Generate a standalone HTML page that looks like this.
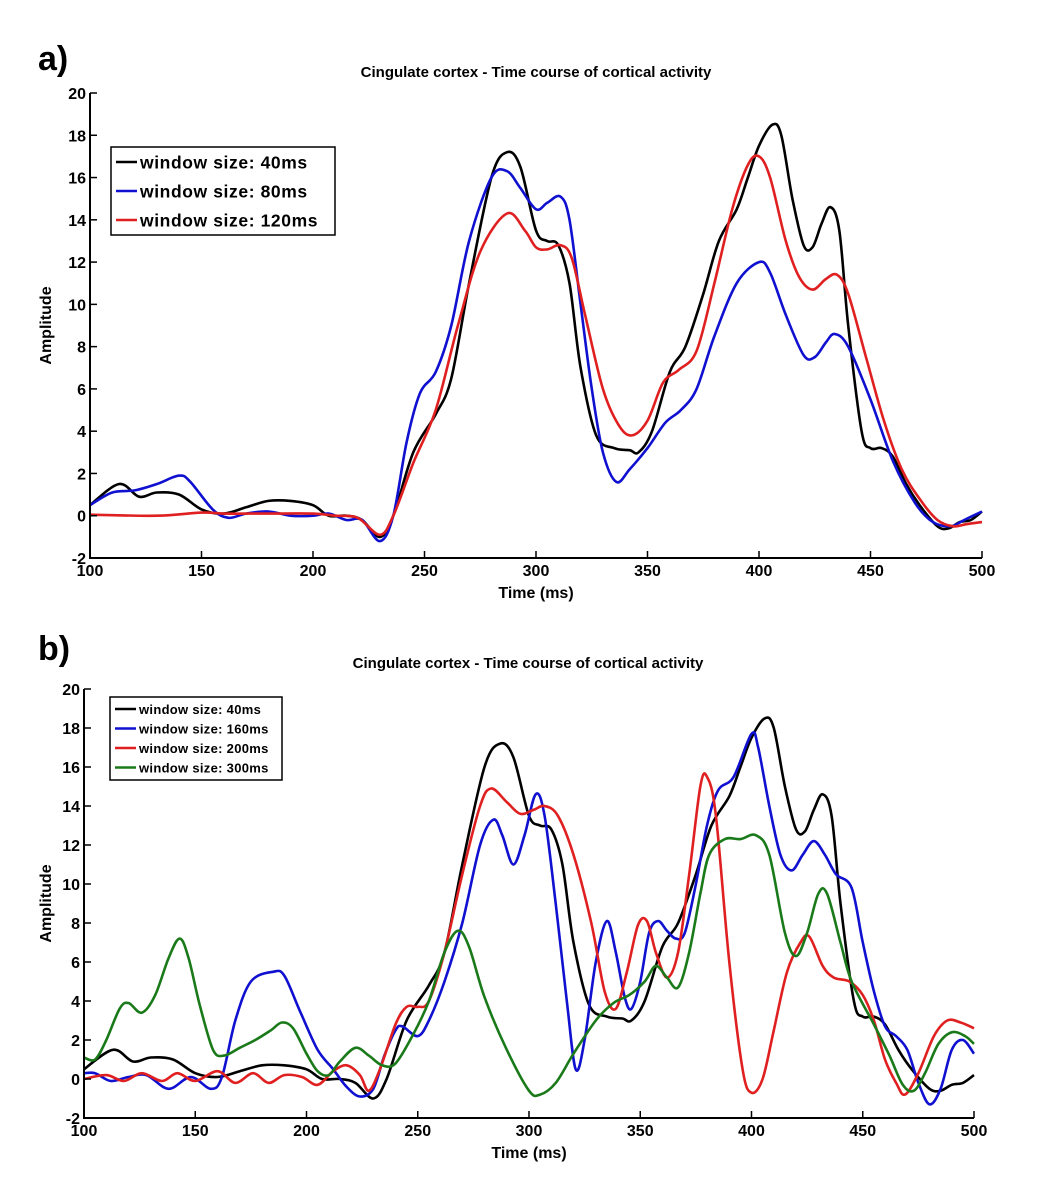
<!DOCTYPE html>
<html><head><meta charset="utf-8"><style>
html,body{margin:0;padding:0;background:#fff;}
svg{display:block;font-family:"Liberation Sans",Arial,sans-serif;}
</style></head><body>
<svg id="svg" width="1049" height="1200" viewBox="0 0 1049 1200">
<text x="38" y="70" font-size="34" font-weight="bold">a)</text>
<text x="536" y="77" font-size="15" font-weight="bold" text-anchor="middle">Cingulate cortex - Time course of cortical activity</text>
<text x="38" y="660" font-size="34" font-weight="bold">b)</text>
<text x="528" y="668" font-size="15" font-weight="bold" text-anchor="middle">Cingulate cortex - Time course of cortical activity</text>
</svg>
<script>
// shared axis ticks
const xTicks=[100,150,200,250,300,350,400,450,500];
const yTicks=[-2,0,2,4,6,8,10,12,14,16,18,20];
// chart a data
const tBlack=[100,113,122,130,140,150,160,170,180,190,200,207,215,222,230,236,245,255,262,270,280,287,293,300,305,310,315,320,327,335,342,346,352,360,367,375,382,390,395,400,406,410,415,420,424,428,432,436,440,446,450,455,460,466,472,480,485,490,495,500];
const vBlack=[0.5,1.5,0.9,1.1,1.0,0.3,0.1,0.4,0.7,0.7,0.5,0.0,0.0,-0.2,-1.0,0.0,3.0,4.8,6.5,11,16,17.2,16.5,13.5,13.0,12.8,11,7,3.8,3.2,3.1,3.0,4.0,6.8,8,10.5,13,14.5,16,17.5,18.5,18,15,12.8,12.7,13.8,14.6,13.5,9,4,3.2,3.2,2.8,1.5,0.5,-0.5,-0.6,-0.3,-0.2,0.2];
const tBlue80=[100,110,120,130,140,145,155,162,170,180,190,200,207,215,222,230,236,242,248,255,262,270,280,287,293,300,305,311,315,320,325,330,336,342,350,358,365,372,380,390,400,405,412,420,425,430,434,440,450,460,470,478,486,492,500];
const vBlue80=[0.5,1.1,1.2,1.5,1.9,1.6,0.3,-0.1,0.1,0.2,0.0,0.0,0.1,-0.2,-0.2,-1.2,0.0,3.5,5.8,6.8,9,13,16,16.3,15.5,14.5,14.8,15.1,14,10,6,3,1.6,2.2,3.2,4.4,5,6,8.5,11,12,11.5,9.5,7.6,7.5,8.2,8.6,8,5.5,2.6,0.6,-0.3,-0.5,-0.2,0.2];
const tRed120=[100,130,150,160,170,180,200,210,220,230,236,245,255,265,275,287,295,300,305,311,316,322,330,337,343,350,357,364,372,380,388,395,400,405,412,418,424,430,435,440,448,456,464,472,480,487,493,500];
const vRed120=[0.05,0.0,0.15,0.1,0.1,0.1,0.1,0.0,-0.1,-0.9,0.0,2.5,5,9,12.5,14.3,13.5,12.7,12.6,12.8,12.2,9.5,6,4.3,3.8,4.5,6.3,6.9,7.8,11,14.5,16.6,17,16,13,11.3,10.7,11.2,11.4,10.5,7.5,4.5,2.2,0.8,-0.2,-0.5,-0.4,-0.3];
// chart b data
const tBlue160=[100,105,112,120,128,138,148,157,162,168,175,185,190,197,205,212,218,224,230,235,240,243,250,255,262,270,278,284,288,293,298,303,307,312,317,321,325,330,335,339,343,346,350,354,358,362,366,370,375,380,385,392,400,403,408,413,418,423,428,433,438,445,450,455,460,465,470,475,480,485,490,495,500];
const vBlue160=[0.3,0.3,-0.1,0.1,0.2,-0.5,0.1,-0.5,0.1,3,5,5.5,5.3,3.5,1.5,0.5,-0.4,-0.9,-0.5,1.2,2.5,2.7,2.2,3,5,8,12,13.3,12.5,11,12.5,14.6,13.5,9,4,0.5,2,6,8.1,6.5,4.2,3.6,5,7.5,8.1,7.6,7.2,7.5,10,13,14.8,15.5,17.7,17,14,11.5,10.7,11.5,12.2,11.5,10.5,9.8,7,4.5,2.7,2.2,1.5,-0.2,-1.3,-0.5,1.5,2.0,1.3];
const tRed200=[100,110,118,126,135,142,150,160,168,176,183,190,198,205,212,218,224,228,233,240,245,250,255,262,270,278,283,290,296,302,307,313,320,328,334,339,344,349,353,357,362,367,372,377,380,384,390,396,400,405,410,416,422,426,432,437,444,450,455,460,465,469,475,482,488,494,500];
const vRed200=[0.0,0.2,-0.1,0.3,-0.1,0.3,-0.1,0.4,-0.2,0.3,-0.2,0.2,0.1,-0.3,0.4,0.7,0.2,-0.6,0.5,2.8,3.7,3.7,4,6.5,10.5,14,14.9,14.2,13.6,13.8,14,13.5,11.5,8,4.5,3.6,5.5,7.9,8.1,6.5,5.2,6.5,10.5,15,15.5,13.5,6,0.5,-0.7,0,2.5,5.5,7,7.3,5.8,5.2,5.0,4.3,3,1,-0.2,-0.8,0.3,2.2,3.0,2.9,2.6];
const tGreen300=[100,105,110,116,120,126,132,138,143,147,152,158,163,170,177,184,189,194,200,205,210,215,222,228,234,240,248,255,262,268,273,280,290,300,305,312,320,330,338,345,352,357,362,367,372,377,381,388,395,402,408,415,420,425,430,434,440,445,455,462,468,473,478,484,490,496,500];
const vGreen300=[1.1,1.0,2.0,3.6,3.9,3.4,4.3,6.2,7.2,6.2,3.8,1.5,1.2,1.6,2.0,2.5,2.9,2.6,1.3,0.4,0.2,0.9,1.6,1.2,0.7,0.8,2.3,4,6.5,7.6,6.8,4.2,1.5,-0.6,-0.8,-0.2,1.3,3,3.9,4.3,5,5.8,5.2,4.7,6.5,9.5,11.5,12.3,12.3,12.5,11.5,7.5,6.3,7.5,9.5,9.5,7,5,2.8,1.2,-0.3,-0.6,0.3,1.8,2.4,2.2,1.8];

const NS='http://www.w3.org/2000/svg';
const svg=document.getElementById('svg');
function mk(tag,attrs,parent){const e=document.createElementNS(NS,tag);for(const k in attrs)e.setAttribute(k,attrs[k]);(parent||svg).appendChild(e);return e;}

function chart(cfg){
  const g=mk('g',{});
  
  
  const xs=v=>cfg.x0+(v-100)/400*(cfg.x1-cfg.x0);
  const ys=v=>cfg.y0-(v+2)/22*(cfg.y0-cfg.y1);
  cfg.series.forEach(s=>{
    const p=s.t.map((t,i)=>[xs(t),ys(s.v[i])]);
    let d='M'+p[0][0].toFixed(1)+','+p[0][1].toFixed(1);
    for(let i=0;i<p.length-1;i++){
      const a=p[i-1]||p[i],b=p[i],c=p[i+1],e=p[i+2]||c;
      const c1=[b[0]+(c[0]-a[0])/6,b[1]+(c[1]-a[1])/6];
      const c2=[c[0]-(e[0]-b[0])/6,c[1]-(e[1]-b[1])/6];
      d+=' C'+c1[0].toFixed(1)+','+c1[1].toFixed(1)+' '+c2[0].toFixed(1)+','+c2[1].toFixed(1)+' '+c[0].toFixed(1)+','+c[1].toFixed(1);
    }
    const path=mk('path',{d:d,fill:'none',stroke:s.color,'stroke-width':2.6,'stroke-linejoin':'round'},g);
    
    
  });
  const ax=mk('line',{x1:cfg.x0,y1:cfg.y1,x2:cfg.x0,y2:cfg.y0,stroke:'#000','stroke-width':2},g);
  
  
  const bx=mk('line',{x1:cfg.x0-1,y1:cfg.y0,x2:cfg.x1,y2:cfg.y0,stroke:'#000','stroke-width':2},g);
  
  
  yTicks.forEach(v=>{
    const y=ys(v);
    mk('line',{x1:cfg.x0,y1:y,x2:cfg.x0+7,y2:y,stroke:'#000','stroke-width':1.5},g);
    const t=mk('text',{x:cfg.x0-4,y:y+6,'font-size':16,'font-weight':'bold','text-anchor':'end'},g);
    t.textContent=v;
    
    
  });
  xTicks.forEach(v=>{
    const x=xs(v);
    mk('line',{x1:x,y1:cfg.y0,x2:x,y2:cfg.y0-7,stroke:'#000','stroke-width':1.5},g);
    const t=mk('text',{x:x,y:cfg.y0+18,'font-size':16,'font-weight':'bold','text-anchor':'middle'},g);
    t.textContent=v;
    
    
  });
  const xt=mk('text',{x:(cfg.x0+cfg.x1)/2,y:cfg.y0+40,'font-size':16,'font-weight':'bold','text-anchor':'middle'},g);
  xt.textContent='Time (ms)';
  
  
  const cy=(cfg.y0+cfg.y1)/2;
  const yt=mk('text',{x:51,y:cy,'font-size':16,'font-weight':'bold','text-anchor':'middle',transform:'rotate(-90 51 '+cy+')'},g);
  yt.textContent='Amplitude';
  
  
  const L=cfg.legend;
  const lg=mk('g',{},g);
  
  
  mk('rect',{x:L.x,y:L.y,width:L.w,height:L.h,fill:'#fff',stroke:'#000','stroke-width':1.5},lg);
  cfg.series.forEach((s,i)=>{
    const y=L.y+L.top+i*L.dy;
    mk('line',{x1:L.x+5,y1:y,x2:L.x+L.lw,y2:y,stroke:s.color,'stroke-width':2.5},lg);
    const t=mk('text',{x:L.x+L.lw+3,y:y+L.fs*0.38,'font-size':L.fs,'font-weight':'bold','letter-spacing':L.ls},lg);
    t.textContent=s.label;
    
    
  });
}

chart({name:'chart-a',x0:90,x1:982,y0:558,y1:93,
  legend:{x:111,y:147,w:224,h:88,top:15,dy:29,lw:26,fs:17.5,ls:0.6},
  series:[
    {name:'line-40ms',color:'#000',t:tBlack,v:vBlack,label:'window size: 40ms'},
    {name:'line-80ms',color:'#1010d0',t:tBlue80,v:vBlue80,label:'window size: 80ms'},
    {name:'line-120ms',color:'#e02020',t:tRed120,v:vRed120,label:'window size: 120ms'}
  ]});
chart({name:'chart-b',x0:84,x1:974,y0:1118,y1:689,
  legend:{x:110,y:697,w:172,h:83,top:12,dy:19.5,lw:26,fs:13,ls:0.3},
  series:[
    {name:'line-40ms',color:'#000',t:tBlack,v:vBlack,label:'window size: 40ms'},
    {name:'line-160ms',color:'#1010d0',t:tBlue160,v:vBlue160,label:'window size: 160ms'},
    {name:'line-200ms',color:'#e02020',t:tRed200,v:vRed200,label:'window size: 200ms'},
    {name:'line-300ms',color:'#1a7a1a',t:tGreen300,v:vGreen300,label:'window size: 300ms'}
  ]});
</script>
</body></html>
